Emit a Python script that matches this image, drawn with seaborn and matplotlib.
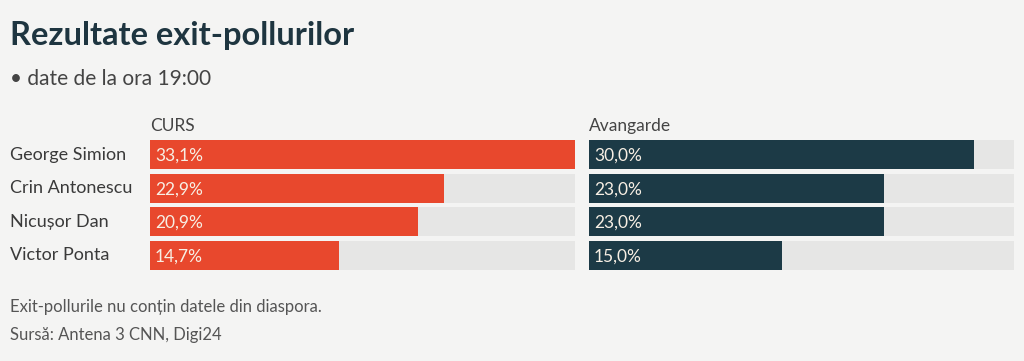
import matplotlib
matplotlib.use('Agg')
import matplotlib.pyplot as plt
import matplotlib.transforms as mtransforms
import seaborn as sns
import pandas as pd

candidates = ['George Simion', 'Crin Antonescu', 'Nicușor Dan', 'Victor Ponta']
curs = [33.1, 22.9, 20.9, 14.7]
avangarde = [30.0, 23.0, 23.0, 15.0]
panel_titles = ['CURS', 'Avangarde']
title = 'Rezultate exit-pollurilor'
subtitle = '• date de la ora 19:00'
note = 'Exit-pollurile nu conțin datele din diaspora.'
source = 'Sursă: Antena 3 CNN, Digi24'

BG = '#f4f4f3'
TRACK = '#e6e6e5'
COLORS = ['#e8482d', '#1c3a46']
DARK = '#1e3540'
GREY = '#555555'


def main():
    sns.set_theme(style='white')
    plt.rcParams['font.family'] = ['Lato', 'DejaVu Sans']

    fig = plt.figure(figsize=(10.24, 3.61), dpi=100, facecolor=BG)
    W, H = 1024, 361
    vmax = max(max(curs), max(avangarde))

    panels = [(150, curs), (589, avangarde)]
    for i, (x0, vals) in enumerate(panels):
        ax = fig.add_axes([x0 / W, (H - 272) / H, 425 / W, 134 / H])
        ax.set_facecolor(BG)
        df = pd.DataFrame({'cand': candidates, 'val': vals, 'track': [vmax] * len(vals)})
        sns.barplot(data=df, x='track', y='cand', color=TRACK, width=0.86,
                    ax=ax, saturation=1, linewidth=0)
        sns.barplot(data=df, x='val', y='cand', color=COLORS[i], width=0.86,
                    ax=ax, saturation=1, linewidth=0)
        ax.set_xlim(0, vmax)
        ax.set_ylim(len(candidates) - 0.5, -0.5)
        for j, v in enumerate(vals):
            ax.text(vmax * 0.012, j + 0.03, f'{v:.1f}%'.replace('.', ','),
                    va='center', ha='left', fontsize=12.5, color='#f7efe4')
        ax.set_xlabel('')
        ax.set_ylabel('')
        ax.set_xticks([])
        ax.set_yticks([])
        if i == 0:
            trans = mtransforms.blended_transform_factory(fig.transFigure, ax.transData)
            for j, name in enumerate(candidates):
                ax.text(10 / W, j, name, transform=trans, fontsize=13,
                        color='#3a3a3a', ha='left', va='center')
        for s in ax.spines.values():
            s.set_visible(False)
        ax.text(0, -0.62, panel_titles[i], fontsize=12.5, color='#444444',
                ha='left', va='bottom')

    fig.text(10 / W, 1 - 35 / H, title, fontsize=23.5, fontweight='bold',
             color=DARK, va='center', ha='left')
    fig.text(10 / W, 1 - 79 / H, subtitle, fontsize=15, color='#444444',
             va='center', ha='left')
    fig.text(10 / W, 1 - 307 / H, note, fontsize=12, color=GREY,
             va='center', ha='left')
    fig.text(10 / W, 1 - 335 / H, source, fontsize=12, color=GREY,
             va='center', ha='left')

    fig.savefig('out.png', dpi=100, facecolor=BG)


if __name__ == '__main__':
    main()
